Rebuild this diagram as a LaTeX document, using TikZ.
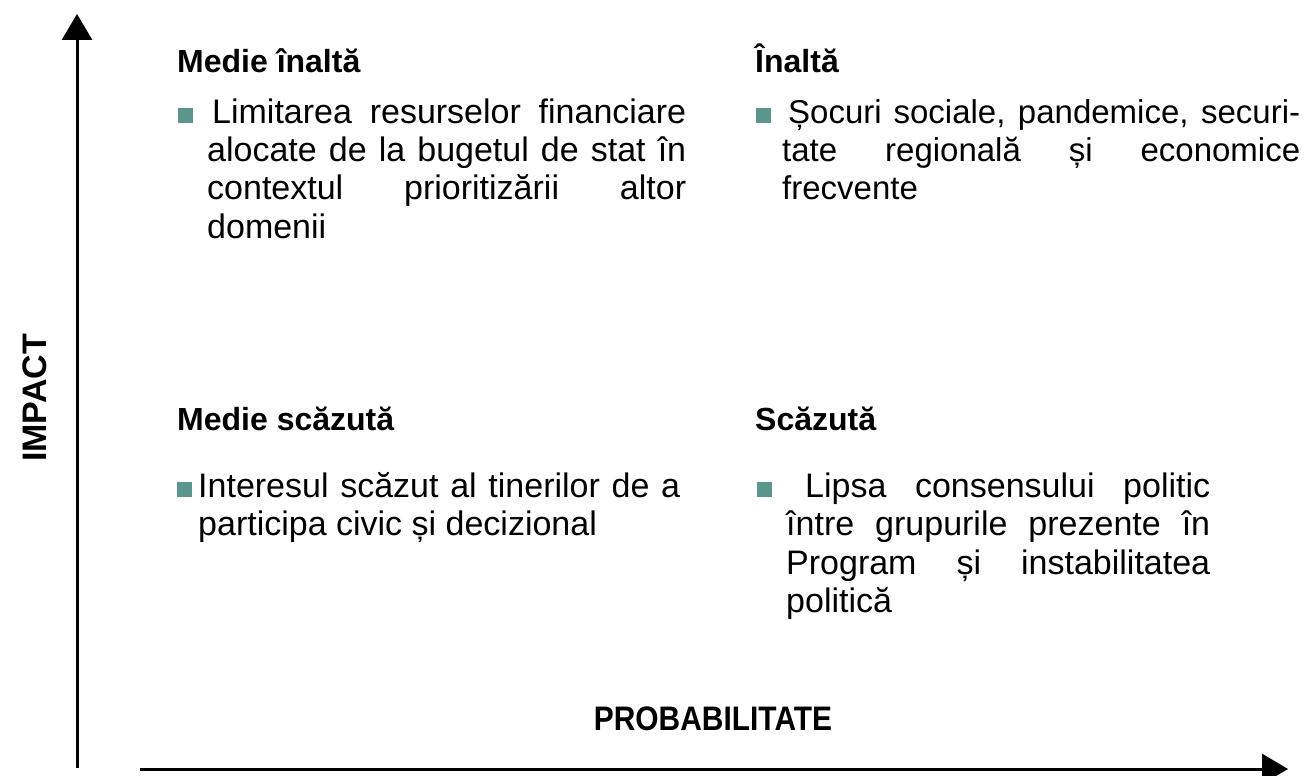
\documentclass[tikz,border=0pt]{standalone}
\usepackage{fontspec}
\usepackage{graphicx}
\setmainfont{Liberation Sans}
\usetikzlibrary{arrows.meta}
\definecolor{bul}{RGB}{90,150,140}
\tolerance=10000
\hbadness=10000
\hfuzz=20pt
\hyphenpenalty=10000
\newcommand{\bodyfnt}{\fontsize{34}{38.5}\selectfont}
\newcommand{\headfnt}{\fontsize{32}{38}\selectfont\bfseries}
\begin{document}
\begin{tikzpicture}[x=1pt,y=-1pt,
  head/.style={anchor=base west, inner sep=0, font=\headfnt},
  body/.style={anchor=base west, inner sep=0, font=\bodyfnt},
  bulletsq/.style={fill=bul, draw=none, minimum size=14.5pt, inner sep=0, anchor=south west},
  axis/.style={line width=3pt, -{Triangle[length=26pt,width=30pt]}},
  axlabel/.style={inner sep=0, font=\fontsize{34}{40}\selectfont\bfseries}]
\useasboundingbox (0,0) rectangle (1312,776);

% axes
\coordinate (vb) at (77,768);
\coordinate (vt) at (77,14);
\draw[axis] (vb) -- (vt);
\coordinate (hl) at (140,769);
\coordinate (hr) at (1288,769);
\draw[axis] (hl) -- (hr);

\node[axlabel, rotate=90] (imp) at (35,398) {IMPACT};
\node[axlabel, anchor=base] (prob) at (713,730) {\scalebox{0.88}[1]{PROBABILITATE}};

% headings
\node[head] (h1) at (177,73) {Medie înaltă};
\node[head] (h2) at (755,73) {Înaltă};
\node[head] (h3) at (177,430) {Medie scăzută};
\node[head] (h4) at (755,430) {Scăzută};

% bullets
\node[bulletsq] (b1) at (178,123) {};
\node[bulletsq] (b2) at (756,123) {};
\node[bulletsq] (b3) at (177,497) {};
\node[bulletsq] (b4) at (757,497) {};

% texts
\node[body] (t1) at (207,123) {\parbox[t]{479pt}{\hspace*{5pt}Limitarea resurselor financiare\linebreak alocate de la bugetul de stat în\linebreak contextul prioritizării altor\linebreak domenii}};
\node[body, font=\fontsize{33}{38.5}\selectfont] (t2) at (782,123) {\parbox[t]{518pt}{\hspace*{6pt}Șocuri sociale, pandemice, securi-\linebreak tate regională și economice\linebreak frecvente}};
\node[body] (t3) at (198,497) {\parbox[t]{482pt}{Interesul scăzut al tinerilor de a\linebreak participa civic și decizional}};
\node[body] (t4) at (786,497) {\parbox[t]{424pt}{\hspace*{19pt}Lipsa consensului politic\linebreak între grupurile prezente în\linebreak Program și instabilitatea\linebreak politică}};
\end{tikzpicture}
\end{document}
